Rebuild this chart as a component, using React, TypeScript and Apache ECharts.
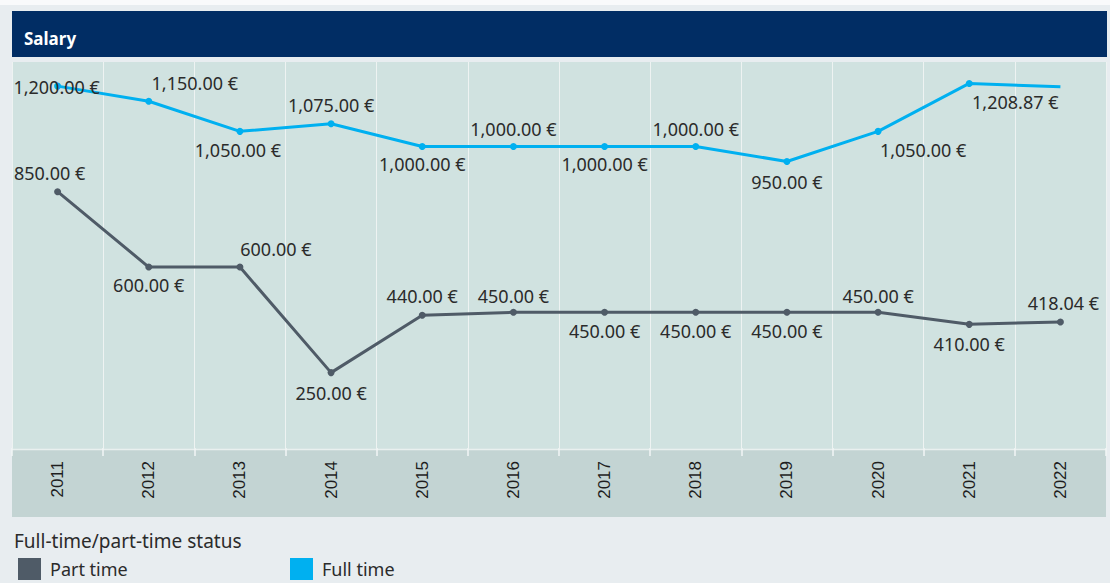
import React, { useEffect, useRef } from "react";
import * as echarts from "echarts";

const years = ["2011", "2012", "2013", "2014", "2015", "2016", "2017", "2018", "2019", "2020", "2021", "2022"];
const partTime = [850, 600, 600, 250, 440, 450, 450, 450, 450, 450, 410, 418.04];
const fullTime = [1200, 1150, 1050, 1075, 1000, 1000, 1000, 1000, 950, 1050, 1208.87, 1198];

// label placement (offset of label centre from point), null = no label
const partLabelOffsets: ([number, number] | null)[] = [
  [-8, -19], [0, 18], [36, -18], [0, 20], [0, -19], [0, -16],
  [0, 19], [0, 19], [0, 19], [0, -16], [0, 20], [3, -19],
];
const fullLabelOffsets: ([number, number] | null)[] = [
  [-1, 1], [46, -18], [-2, 19], [0, -19], [0, 18], [0, -17],
  [0, 18], [0, -17], [0, 20], [45, 19], [46, 19], null,
];

const PART_COLOR = "#4f5b67";
const FULL_COLOR = "#00b0f0";
const LABEL_FONT = "'Noto Sans', 'Open Sans', sans-serif";

const fmt = (v: number) =>
  v.toLocaleString("en-US", { minimumFractionDigits: 2, maximumFractionDigits: 2 }) + " €";

function buildData(values: number[], offsets: ([number, number] | null)[]) {
  return values.map((v, i) => {
    const off = offsets[i];
    return off
      ? { value: v }
      : { value: v, symbolSize: 0, label: { show: false } };
  });
}

function layoutFor(offsets: ([number, number] | null)[]) {
  return (p: any) => {
    const off = offsets[p.dataIndex];
    if (!off) return {};
    return { dx: off[0], dy: off[1], hideOverlap: false };
  };
}

export default function App() {
  const ref = useRef<HTMLDivElement>(null);
  useEffect(() => {
    document.body.style.margin = "0";
    if (!ref.current) return;
    const chart = echarts.init(ref.current, null, { renderer: "svg" });
    const labelStyle = {
      show: true,
      position: "inside",
      formatter: (p: any) => fmt(p.value),
      color: "#2b2b2b",
      fontSize: 18,
      fontFamily: LABEL_FONT,
      align: "center",
      verticalAlign: "middle",
    };
    const legendText = { color: "#2b2b2b", fontSize: 18, fontFamily: LABEL_FONT, padding: [0, 0, 0, 4] };
    chart.setOption({
      animation: false,
      backgroundColor: "#e8edf0",
      title: {
        text: "Salary",
        left: 19,
        top: 25,
        textStyle: { color: "#ffffff", fontSize: 17, fontWeight: "bold", fontFamily: LABEL_FONT },
      },
      graphic: [
        { type: "rect", z: -10, shape: { x: 0, y: 0, width: 1110, height: 5 }, style: { fill: "#f9fafb" } },
        { type: "rect", z: -10, shape: { x: 12, y: 11, width: 1095, height: 46 }, style: { fill: "#012d64" } },
        { type: "rect", z: -10, shape: { x: 12, y: 62, width: 1094, height: 388 }, style: { fill: "#d0e2e0" } },
        { type: "rect", z: -10, shape: { x: 12, y: 450, width: 1094, height: 67 }, style: { fill: "#c3d4d3" } },
        { type: "line", z: -9, shape: { x1: 12, y1: 449.5, x2: 1106, y2: 449.5 }, style: { stroke: "#e9f0ef", lineWidth: 1.5 } },
        {
          type: "text",
          left: 14,
          top: 531,
          style: { text: "Full-time/part-time status", fill: "#2b2b2b", fontSize: 19, fontFamily: LABEL_FONT },
        },
      ],
      legend: [
        {
          data: ["Part time"],
          left: 18,
          top: 558,
          icon: "rect",
          itemWidth: 23,
          itemHeight: 22,
          itemGap: 0,
          padding: 0,
          selectedMode: false,
          textStyle: legendText,
        },
        {
          data: ["Full time"],
          left: 290,
          top: 558,
          icon: "rect",
          itemWidth: 23,
          itemHeight: 22,
          itemGap: 0,
          padding: 0,
          selectedMode: false,
          textStyle: legendText,
        },
      ],
      grid: { left: 12, right: 4, top: 62, bottom: 135, containLabel: false },
      xAxis: {
        type: "category",
        data: years,
        boundaryGap: true,
        offset: 2,
        axisLine: { show: false },
        axisTick: { show: true, length: 8, lineStyle: { color: "#f2f6f6", width: 1.5 } },
        axisLabel: {
          rotate: 90,
          margin: 11,
          color: "#1e1e1e",
          fontSize: 17,
          fontFamily: "'Liberation Sans', Arial, sans-serif",
        },
        splitLine: { show: true, lineStyle: { color: "#eef3f2", width: 1 } },
      },
      yAxis: {
        type: "value",
        min: 0,
        max: 1280,
        show: false,
        splitLine: { show: false },
      },
      series: [
        {
          name: "Part time",
          type: "line",
          data: buildData(partTime, partLabelOffsets),
          color: PART_COLOR,
          symbol: "circle",
          symbolSize: 7,
          showAllSymbol: true,
          lineStyle: { width: 3, color: PART_COLOR },
          itemStyle: { color: PART_COLOR },
          label: labelStyle,
          labelLayout: layoutFor(partLabelOffsets),
        },
        {
          name: "Full time",
          type: "line",
          data: buildData(fullTime, fullLabelOffsets),
          color: FULL_COLOR,
          symbol: "circle",
          symbolSize: 7,
          showAllSymbol: true,
          lineStyle: { width: 3, color: FULL_COLOR },
          itemStyle: { color: FULL_COLOR },
          label: labelStyle,
          labelLayout: layoutFor(fullLabelOffsets),
        },
      ],
    });
    return () => chart.dispose();
  }, []);
  return <div ref={ref} style={{ width: 1110, height: 583 }} />;
}
